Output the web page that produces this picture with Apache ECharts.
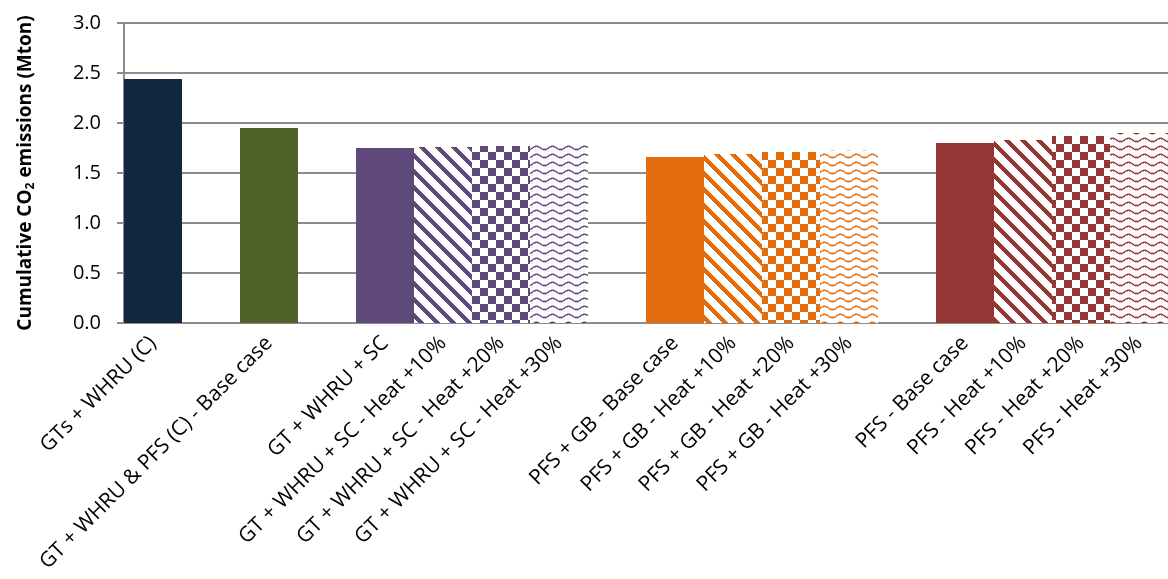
<!DOCTYPE html>
<html>
<head>
<meta charset="utf-8">
<script src="https://cdn.jsdelivr.net/npm/echarts@6/dist/echarts.min.js"></script>
<style>
  html, body { margin: 0; padding: 0; background: #ffffff; }
  #chart { width: 1168px; height: 579px; }
</style>
</head>
<body>
<div id="chart"></div>
<script>
// Scenario names along the category axis ('' = spacer slot between scenario groups)
const categories = [
  'GTs + WHRU (C)', '',
  'GT + WHRU & PFS (C) - Base case', '',
  'GT + WHRU + SC', 'GT + WHRU + SC - Heat +10%', 'GT + WHRU + SC - Heat +20%', 'GT + WHRU + SC - Heat +30%', '',
  'PFS + GB - Base case', 'PFS + GB - Heat +10%', 'PFS + GB - Heat +20%', 'PFS + GB - Heat +30%', '',
  'PFS - Base case', 'PFS - Heat +10%', 'PFS - Heat +20%', 'PFS - Heat +30%'
];

// Cumulative CO2 emissions per scenario, Mton
const emissions = [
  2.44, null,
  1.95, null,
  1.75, 1.76, 1.77, 1.78, null,
  1.66, 1.69, 1.71, 1.73, null,
  1.80, 1.83, 1.87, 1.90
];

// Value-axis tick labels
const yTicks = ['0.0', '0.5', '1.0', '1.5', '2.0', '2.5', '3.0'];

// ---- appearance ----
const groupColor = ['#13263F', null, '#4F6228', null,
  '#5F497A', '#5F497A', '#5F497A', '#5F497A', null,
  '#E46C0A', '#E46C0A', '#E46C0A', '#E46C0A', null,
  '#953735', '#953735', '#953735', '#953735'];
const fillKind = ['solid', null, 'solid', null,
  'solid', 'stripe', 'check', 'wave', null,
  'solid', 'stripe', 'check', 'wave', null,
  'solid', 'stripe', 'check', 'wave'];

function hexToRgb(hex) {
  const n = parseInt(hex.slice(1), 16);
  return [(n >> 16) & 255, (n >> 8) & 255, n & 255];
}

// Pixel pattern tiles: foreground colour on white
function makeTile(w, h, color, test) {
  const c = document.createElement('canvas');
  c.width = w; c.height = h;
  const ctx = c.getContext('2d');
  const img = ctx.createImageData(w, h);
  const rgb = hexToRgb(color);
  for (let y = 0; y < h; y++) {
    for (let x = 0; x < w; x++) {
      const a = test(x, y);
      const i = (y * w + x) * 4;
      img.data[i]     = Math.round(255 + (rgb[0] - 255) * a);
      img.data[i + 1] = Math.round(255 + (rgb[1] - 255) * a);
      img.data[i + 2] = Math.round(255 + (rgb[2] - 255) * a);
      img.data[i + 3] = 255;
    }
  }
  ctx.putImageData(img, 0, 0);
  return c;
}

function fillFor(kind, color) {
  if (kind === 'stripe') {
    // wide downward diagonal
    return { image: makeTile(16, 16, color, (x, y) => (((x - y) % 16 + 16) % 16) < 6 ? 1 : 0), repeat: 'repeat' };
  }
  if (kind === 'check') {
    // large checkerboard
    return { image: makeTile(16, 16, color, (x, y) => ((Math.floor(x / 8) + Math.floor(y / 8)) % 2 === 0) ? 1 : 0), repeat: 'repeat' };
  }
  if (kind === 'wave') {
    // thin wavy lines
    return { image: makeTile(16, 8, color, (x, y) => {
      const yc = 3.5 + 1.6 * Math.cos(2 * Math.PI * x / 16);
      const d = Math.abs(y - yc);
      return d < 0.55 ? 0.95 : (d < 1.1 ? 0.45 : 0);
    }), repeat: 'repeat' };
  }
  return color;
}

const barData = emissions.map((v, i) => ({
  value: v,
  itemStyle: fillKind[i] ? { color: fillFor(fillKind[i], groupColor[i]) } : undefined
}));

const FONT = '"Open Sans", Lato, sans-serif';
const GRID_GRAY = '#8C8C8C';

const chart = echarts.init(document.getElementById('chart'), null, { renderer: 'canvas' });
chart.setOption({
  animation: false,
  backgroundColor: '#ffffff',
  grid: { left: 124, top: 23, width: 1053, height: 300, containLabel: false },
  xAxis: {
    type: 'category',
    data: categories,
    axisLine: { show: true, lineStyle: { color: GRID_GRAY, width: 2 } },
    axisTick: { show: false },
    axisLabel: {
      interval: 0,
      rotate: 45,
      margin: 17,
      color: '#000000',
      fontFamily: FONT,
      fontSize: 21
    }
  },
  yAxis: {
    type: 'value',
    min: 0,
    max: 3,
    interval: 0.5,
    axisLine: { show: true, lineStyle: { color: GRID_GRAY, width: 2 } },
    axisTick: { show: true, length: 7, lineStyle: { color: GRID_GRAY, width: 2 } },
    splitLine: { show: true, lineStyle: { color: GRID_GRAY, width: 2 } },
    axisLabel: {
      margin: 23,
      color: '#000000',
      fontFamily: FONT,
      fontSize: 20,
      formatter: (v) => yTicks[Math.round(v / 0.5)]
    },
    name: '{t|Cumulative CO}{s|2}{t| emissions (Mton)}',
    nameLocation: 'middle',
    nameRotate: 90,
    nameGap: 87,
    nameTextStyle: {
      rich: {
        t: { fontFamily: FONT, fontSize: 19, fontWeight: 'bold', color: '#000000' },
        s: { fontFamily: FONT, fontSize: 12, fontWeight: 'bold', color: '#000000', padding: [10, 0, 0, 0] }
      }
    }
  },
  series: [{
    type: 'bar',
    data: barData,
    barWidth: '100%',
    barCategoryGap: 0
  }]
});
</script>
</body>
</html>
